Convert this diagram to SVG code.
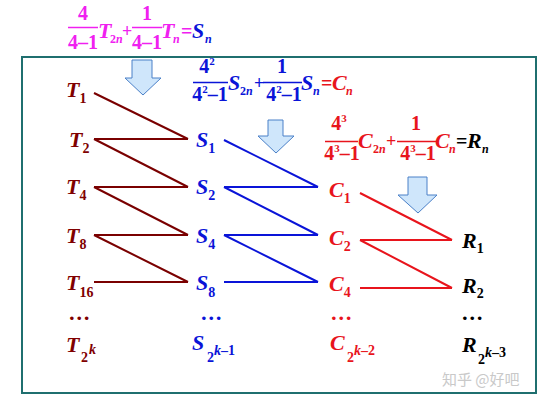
<svg xmlns="http://www.w3.org/2000/svg" width="546" height="402" viewBox="0 0 546 402">
<style>
.m{font-family:"Liberation Serif","Times New Roman",serif;font-weight:bold;font-style:italic;font-size:22px}
.f{font-family:"Liberation Serif","Times New Roman",serif;font-weight:bold;font-size:20px}
.pl{font-size:18px}
.s{font-size:14px;font-style:normal}
.si{font-size:14px;font-style:italic}
.fs{font-size:12px;font-style:normal}
.fsi{font-size:12px;font-style:italic}
.sup{font-size:11px;font-style:normal}
.tc{fill:#800000}.sc{fill:#0a14d8}.cc{fill:#e8141c}.rc{fill:#000}.mg{fill:#f020f0}
.lt{stroke:#7a0000;stroke-width:2;fill:none}
.ls{stroke:#0a14d8;stroke-width:2;fill:none}
.lc{stroke:#e8141c;stroke-width:2;fill:none}
.arr{fill:#cfe6fb;stroke:#4a80c8;stroke-width:1}
.wm{font-family:"Noto Sans CJK SC","Noto Sans",sans-serif;font-size:15px;fill:#c9c9c9}
</style>
<rect width="546" height="402" fill="#fff"/>
<rect id="frame" x="22" y="57" width="514" height="336" fill="none" stroke="#1f6f6f" stroke-width="2"/>

<g id="formula1">
<text class="f mg" x="83" y="20" text-anchor="middle">4</text>
<line x1="68" y1="27.5" x2="98" y2="27.5" stroke="#f020f0" stroke-width="1.5"/>
<text class="f mg" x="83" y="49" text-anchor="middle">4–1</text>
<text class="m mg" x="98" y="38">T</text><text class="f mg" x="110" y="43"><tspan class="fs">2</tspan><tspan class="fsi">n</tspan></text>
<text class="f mg pl" x="122" y="37">+</text>
<text class="f mg" x="147" y="20" text-anchor="middle">1</text>
<line x1="132" y1="27.5" x2="162" y2="27.5" stroke="#f020f0" stroke-width="1.5"/>
<text class="f mg" x="147" y="49" text-anchor="middle">4–1</text>
<text class="m mg" x="161" y="38">T</text><text class="f mg fsi" x="173" y="43">n</text>
<text class="f mg" x="181" y="38">=</text>
<text class="m sc" x="192" y="38">S</text><text class="f sc fsi" x="205" y="43">n</text>
</g>

<g id="formula2">
<text class="f sc" x="207" y="73" text-anchor="middle">4<tspan class="sup" dy="-8">2</tspan></text>
<line x1="193" y1="82.5" x2="228" y2="82.5" stroke="#0a14d8" stroke-width="1.5"/>
<text class="f sc" x="210" y="101" text-anchor="middle">4<tspan class="sup" dy="-8">2</tspan><tspan dy="8">–1</tspan></text>
<text class="m sc" x="228" y="90">S</text><text class="f sc" x="240" y="95"><tspan class="fs">2</tspan><tspan class="fsi">n</tspan></text>
<text class="f sc pl" x="254" y="89">+</text>
<text class="f sc" x="282" y="73" text-anchor="middle">1</text>
<line x1="263" y1="82.5" x2="302" y2="82.5" stroke="#0a14d8" stroke-width="1.5"/>
<text class="f sc" x="284" y="101" text-anchor="middle">4<tspan class="sup" dy="-8">2</tspan><tspan dy="8">–1</tspan></text>
<text class="m sc" x="301" y="90">S</text><text class="f sc fsi" x="313" y="95">n</text>
<text class="f cc" x="321" y="90">=</text>
<text class="m cc" x="332" y="90">C</text><text class="f cc fsi" x="346" y="95">n</text>
</g>

<g id="formula3">
<text class="f cc" x="339" y="130" text-anchor="middle">4<tspan class="sup" dy="-8">3</tspan></text>
<line x1="325" y1="141.5" x2="358" y2="141.5" stroke="#e8141c" stroke-width="1.5"/>
<text class="f cc" x="342" y="160" text-anchor="middle">4<tspan class="sup" dy="-8">3</tspan><tspan dy="8">–1</tspan></text>
<text class="m cc" x="358" y="148">C</text><text class="f cc" x="373" y="153"><tspan class="fs">2</tspan><tspan class="fsi">n</tspan></text>
<text class="f cc pl" x="386" y="147">+</text>
<text class="f cc" x="416" y="130" text-anchor="middle">1</text>
<line x1="397" y1="141.5" x2="437" y2="141.5" stroke="#e8141c" stroke-width="1.5"/>
<text class="f cc" x="418" y="160" text-anchor="middle">4<tspan class="sup" dy="-8">3</tspan><tspan dy="8">–1</tspan></text>
<text class="m cc" x="435" y="148">C</text><text class="f cc fsi" x="449" y="153">n</text>
<text class="f rc" x="456" y="148">=</text>
<text class="m rc" x="467" y="148">R</text><text class="f rc fsi" x="482" y="153">n</text>
</g>

<g id="arrows">
<polygon id="arrow1" class="arr" points="132,60 152,60 152,78 161,78 143,95 125,78 132,78"/>
<polygon id="arrow2" class="arr" points="268,120 283,120 283,136 294,136 276,153 258,136 268,136"/>
<polygon id="arrow3" class="arr" points="408,177 427,177 427,195 437,195 418,213 398,195 408,195"/>
</g>

<g id="connectors">
<path class="lt" d="M94,93 L188,139 M94,139 L188,139 M94,139 L188,187 M94,187 L188,187 M94,187 L188,235 M94,235 L188,235 M94,235 L188,282 M94,282 L188,282"/>
<path class="ls" d="M224,140 L318,187 M224,187 L318,187 M224,187 L318,235 M224,235 L318,235 M224,235 L318,282 M224,282 L318,282"/>
<path class="lc" d="M360,193 L452,240 M360,240 L452,240 M360,240 L452,288 M360,288 L452,288"/>
</g>

<g id="T-column">
<g id="T1"><text class="m tc" x="66" y="97">T<tspan class="s" dy="6">1</tspan></text></g>
<g id="T2"><text class="m tc" x="69" y="147">T<tspan class="s" dy="6">2</tspan></text></g>
<g id="T4"><text class="m tc" x="66" y="194">T<tspan class="s" dy="6">4</tspan></text></g>
<g id="T8"><text class="m tc" x="66" y="243">T<tspan class="s" dy="6">8</tspan></text></g>
<g id="T16"><text class="m tc" x="66" y="290">T<tspan class="s" dy="7">16</tspan></text></g>
<g id="Tdots"><text class="m tc" x="69" y="320">…</text></g>
<g id="T2k"><text class="m tc" x="66" y="352">T</text><text class="m tc s" x="81" y="362">2</text><text class="m tc si" x="89" y="354">k</text></g>
</g>

<g id="S-column">
<g id="S1"><text class="m sc" x="196" y="147">S<tspan class="s" dy="6">1</tspan></text></g>
<g id="S2"><text class="m sc" x="196" y="194">S<tspan class="s" dy="6">2</tspan></text></g>
<g id="S4"><text class="m sc" x="196" y="243">S<tspan class="s" dy="6">4</tspan></text></g>
<g id="S8"><text class="m sc" x="196" y="290">S<tspan class="s" dy="7">8</tspan></text></g>
<g id="Sdots"><text class="m sc" x="201" y="320">…</text></g>
<g id="S2k"><text class="m sc" x="192" y="350">S</text><text class="m sc s" x="207" y="362">2</text><text class="m sc" x="214" y="355"><tspan class="si">k</tspan><tspan class="s">–1</tspan></text></g>
</g>

<g id="C-column">
<g id="C1"><text class="m cc" x="329" y="197">C<tspan class="s" dy="6">1</tspan></text></g>
<g id="C2"><text class="m cc" x="329" y="245">C<tspan class="s" dy="6">2</tspan></text></g>
<g id="C4"><text class="m cc" x="329" y="291">C<tspan class="s" dy="6">4</tspan></text></g>
<g id="Cdots"><text class="m cc" x="331" y="320">…</text></g>
<g id="C2k"><text class="m cc" x="330" y="350">C</text><text class="m cc s" x="347" y="362">2</text><text class="m cc" x="354" y="355"><tspan class="si">k</tspan><tspan class="s">–2</tspan></text></g>
</g>

<g id="R-column">
<g id="R1"><text class="m rc" x="462" y="248">R<tspan class="s" dy="5">1</tspan></text></g>
<g id="R2"><text class="m rc" x="462" y="293">R<tspan class="s" dy="5">2</tspan></text></g>
<g id="Rdots"><text class="m rc" x="462" y="320">…</text></g>
<g id="R2k"><text class="m rc" x="462" y="352">R</text><text class="m rc s" x="478" y="364">2</text><text class="m rc" x="485" y="357"><tspan class="si">k</tspan><tspan class="s">–3</tspan></text></g>
</g>

<text class="wm" x="442" y="385">知乎 @好吧</text>
</svg>
